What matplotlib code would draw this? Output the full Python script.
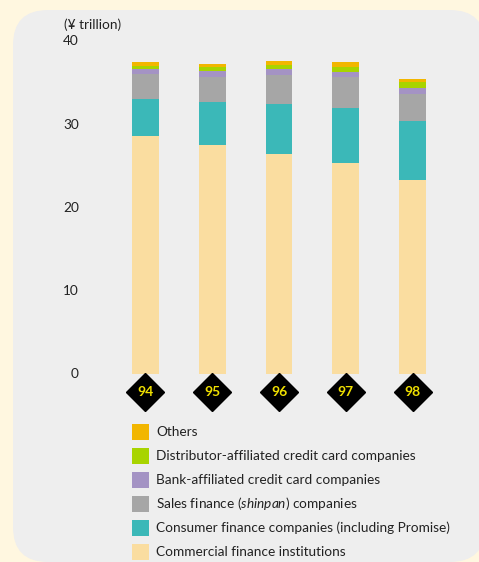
import matplotlib
matplotlib.use("Agg")
import matplotlib.pyplot as plt
from matplotlib.patches import FancyBboxPatch, Rectangle
from matplotlib.transforms import IdentityTransform, blended_transform_factory

# Outstanding consumer credit by lender type (¥ trillion)
years = ["94", "95", "96", "97", "98"]
commercial = [28.5, 27.4, 26.35, 25.25, 23.2]
consumer = [4.45, 5.15, 6.0, 6.6, 7.1]
sales_finance = [3.0, 3.1, 3.5, 3.7, 3.25]
bank_cards = [0.6, 0.7, 0.7, 0.7, 0.7]
distributor_cards = [0.4, 0.45, 0.5, 0.6, 0.7]
others = [0.45, 0.4, 0.45, 0.5, 0.35]

series_labels = [
    "Commercial finance institutions",
    "Consumer finance companies (including Promise)",
    "Sales finance ($\\mathit{shinpan}$) companies",
    "Bank-affiliated credit card companies",
    "Distributor-affiliated credit card companies",
    "Others",
]
series_values = [commercial, consumer, sales_finance, bank_cards,
                 distributor_cards, others]
series_colors = ["#FADDA0", "#3BB8B8", "#A6A6A6", "#A493C4", "#A8D400", "#F2B600"]

yticks = [0, 10, 20, 30, 40]

W, H = 479, 562
DPI = 100
plt.rcParams["font.family"] = ["Lato", "DejaVu Sans"]
plt.rcParams["mathtext.fontset"] = "custom"
plt.rcParams["mathtext.rm"] = "Lato"
plt.rcParams["mathtext.it"] = "Lato:italic"

fig = plt.figure(figsize=(W / DPI, H / DPI), dpi=DPI)
fig.patch.set_facecolor("#FFF7E0")

# rounded grey panel behind everything
panel = FancyBboxPatch((13, 0), 472, 552,
                       boxstyle="round,pad=0,rounding_size=35",
                       transform=IdentityTransform(),
                       facecolor="#EEEEEE", edgecolor="none", zorder=-5)
fig.patches.append(panel)


def px_to_fig(x0, y0_top, x1, y1_top):
    return [x0 / W, 1 - y1_top / H, (x1 - x0) / W, (y1_top - y0_top) / H]


ax = fig.add_axes(px_to_fig(112.1, 40.3, 445.9, 373.5))
ax.set_facecolor("none")
for s in ax.spines.values():
    s.set_visible(False)

x = list(range(len(years)))
bottom = [0.0] * len(years)
for vals, col in zip(series_values, series_colors):
    ax.bar(x, vals, width=0.404, bottom=bottom, color=col, linewidth=0, zorder=2)
    bottom = [b + v for b, v in zip(bottom, vals)]

ax.set_xlim(-0.5, 4.5)
ax.set_ylim(0, 40)
ax.set_xticks([])
ax.set_yticks(yticks)
ax.set_yticklabels([str(t) for t in yticks], fontsize=9.8, color="#222222")
ax.tick_params(axis="y", length=0, pad=24)
fig.text(64 / W, 1 - 25 / H, "(¥ trillion)", fontsize=9.8, color="#222222",
         ha="left", va="center")

# year markers: black diamonds below each bar
trans = blended_transform_factory(ax.transData, fig.transFigure)
ymark = 1 - 392 / H
ax.plot(x, [ymark] * len(x), marker="D", markersize=19.3, linestyle="none",
        color="black", transform=trans, clip_on=False, zorder=3)
for xi, yr in zip(x, years):
    ax.text(xi, ymark, yr, transform=trans, ha="center", va="center",
            fontsize=10, fontweight="bold", color="#F0E000", zorder=4)

# legend, top entry first
row_y = [432, 456, 480, 504, 528, 552]
for yy, lab, col in zip(row_y, series_labels[::-1], series_colors[::-1]):
    fig.patches.append(Rectangle((132 / W, 1 - (yy + 8) / H), 16.5 / W, 16.5 / H,
                                 transform=fig.transFigure, facecolor=col,
                                 edgecolor="none"))
    fig.text(156.5 / W, 1 - yy / H, lab, fontsize=9.8, color="#222222",
             ha="left", va="center")

fig.savefig("out.png", dpi=DPI, facecolor=fig.get_facecolor())
